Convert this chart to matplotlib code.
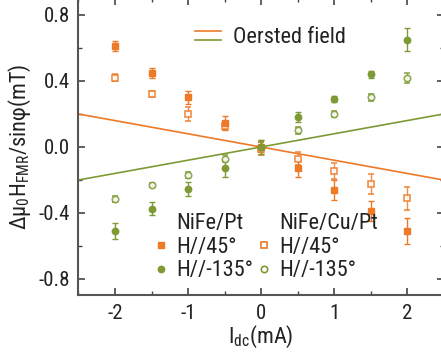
import matplotlib
matplotlib.use("Agg")
import matplotlib.pyplot as plt
from matplotlib.lines import Line2D
from matplotlib.legend_handler import HandlerBase
import numpy as np

# 窄体字体, 负号用普通连字符
plt.rcParams['font.family'] = ['Roboto Condensed', 'DejaVu Sans']
plt.rcParams['mathtext.default'] = 'regular'
plt.rcParams['axes.unicode_minus'] = False

orange = '#EC7A27'
green = '#7D9A34'

I_dc = [-2, -1.5, -1, -0.5, 0, 0.5, 1, 1.5, 2]
pt45 = [0.61, 0.45, 0.30, 0.145, 0.0, -0.13, -0.26, -0.39, -0.51]
pt45_err = [0.03, 0.03, 0.04, 0.04, 0.04, 0.05, 0.06, 0.06, 0.08]
pt135 = [-0.51, -0.375, -0.255, -0.13, 0.0, 0.18, 0.29, 0.44, 0.65]
pt135_err = [0.05, 0.04, 0.04, 0.05, 0.04, 0.03, 0.02, 0.02, 0.07]
cu45 = [0.42, 0.32, 0.20, 0.13, -0.01, -0.07, -0.145, -0.225, -0.31]
cu45_err = [0.02, 0.02, 0.04, 0.03, 0.04, 0.04, 0.05, 0.06, 0.07]
cu135 = [-0.315, -0.23, -0.17, -0.07, 0.0, 0.10, 0.20, 0.30, 0.42]
cu135_err = [0.02, 0.01, 0.02, 0.02, 0.03, 0.02, 0.02, 0.02, 0.03]

oersted_x = [-2.5, 2.5]
oersted_45 = [0.2, -0.2]
oersted_135 = [-0.2, 0.2]


class StackedLines(HandlerBase):
    # 两条线上下叠放的图例
    def create_artists(self, legend, orig_handle, xdescent, ydescent,
                       width, height, fontsize, trans):
        arts = []
        n = len(orig_handle)
        for i, ln in enumerate(orig_handle):
            y = height * (0.8 - 0.6 * i / (n - 1)) - ydescent
            l = Line2D([-xdescent, width - xdescent], [y, y],
                       color=ln.get_color(), lw=ln.get_linewidth())
            l.set_transform(trans)
            arts.append(l)
        return arts


fig = plt.figure(figsize=(4.41, 3.58), dpi=100)
ax = fig.add_axes([0.178, 0.1746, 0.8277, 0.8296])

l1, = ax.plot(oersted_x, oersted_45, color=orange, lw=1.2)
l2, = ax.plot(oersted_x, oersted_135, color=green, lw=1.2)

kw = dict(ls='none', ms=4.6, capsize=2.5, elinewidth=1, capthick=1)
ax.errorbar(I_dc, cu45, yerr=cu45_err, fmt='s', mfc='white', mec=orange, mew=1.2,
            ecolor=orange, alpha=0.85, **kw)
ax.errorbar(I_dc, cu135, yerr=cu135_err, fmt='o', mfc='white', mec=green, mew=1.2,
            ecolor=green, alpha=0.85, **kw)
ax.errorbar(I_dc, pt45, yerr=pt45_err, fmt='s', color=orange, **kw)
ax.errorbar(I_dc, pt135, yerr=pt135_err, fmt='o', color=green, **kw)

ax.set_xlim(-2.5, 2.5)
ax.set_ylim(-0.9, 0.9)
ax.set_xticks([-2, -1, 0, 1, 2])
ax.set_xticks(np.arange(-2.5, 2.6, 0.5), minor=True)
ax.set_yticks([-0.8, -0.4, 0.0, 0.4, 0.8])
ax.set_yticks(np.arange(-0.8, 0.81, 0.2), minor=True)
ax.set_yticklabels(['-0.8', '-0.4', '0.0', '0.4', '0.8'])
ax.tick_params(which='both', direction='in', top=True, right=True,
               color='#444444', labelsize=15, labelcolor='#222222')
ax.tick_params(which='major', length=5, width=1.2, pad=6)
ax.tick_params(which='minor', length=3, width=1.0)
for s in ax.spines.values():
    s.set_color('#555555')
    s.set_linewidth(1.5)

ax.set_xlabel('I$_{dc}$(mA)', fontsize=16, color='#222222', labelpad=1)
ax.set_ylabel('Δμ$_0$H$_{FMR}$/sinφ(mT)', fontsize=16, color='#222222', labelpad=4)

leg1 = ax.legend([(l1, l2)], ['Oersted field'], handler_map={tuple: StackedLines()},
                 loc='upper left', bbox_to_anchor=(0.265, 0.97), frameon=False,
                 fontsize=16, handlelength=1.17, handletextpad=0.55)
ax.add_artist(leg1)

blank = Line2D([], [], ls='none')
h = [blank,
     Line2D([], [], ls='none', marker='s', ms=4.6, color=orange),
     Line2D([], [], ls='none', marker='o', ms=4.6, color=green),
     blank,
     Line2D([], [], ls='none', marker='s', ms=4.6, mfc='white', mec=orange, mew=1.2),
     Line2D([], [], ls='none', marker='o', ms=4.6, mfc='white', mec=green, mew=1.2)]
lab = ['NiFe/Pt', 'H//45°', 'H//-135°', 'NiFe/Cu/Pt', 'H//45°', 'H//-135°']
leg2 = ax.legend(h, lab, ncol=2, loc='lower left', bbox_to_anchor=(0.153, -0.02),
                 frameon=False, fontsize=16, handlelength=0.6, handletextpad=0.4,
                 columnspacing=0.15, labelspacing=0.12)
for t in leg2.get_texts():
    t.set_color('#222222')
leg1.get_texts()[0].set_color('#222222')

fig.savefig('out.png', dpi=100)
